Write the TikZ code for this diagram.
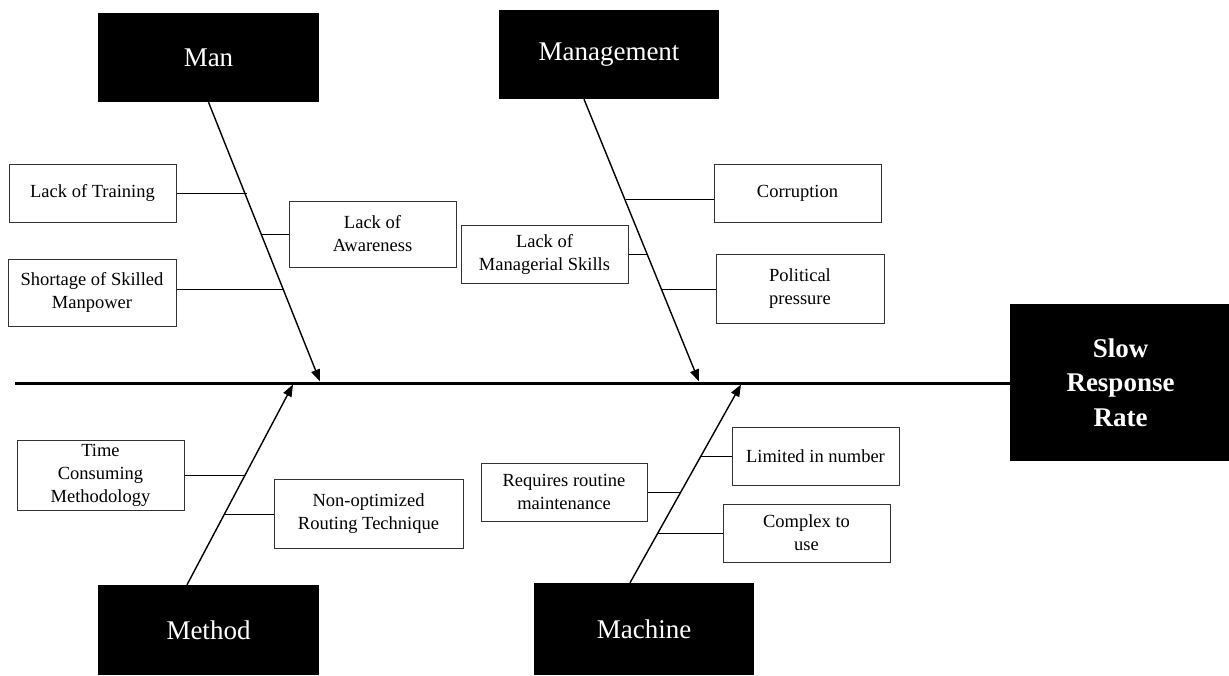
\documentclass[tikz,border=0pt]{standalone}
\usepackage{fontspec}
\setmainfont{Liberation Serif}
\usepackage{tikz}
\usetikzlibrary{arrows.meta, backgrounds}
\tikzstyle{cause} = [rectangle, minimum width=221pt, minimum height=89pt, text centered, inner sep=0pt, fill=black, text=white, font=\fontsize{27}{32}\selectfont]
\tikzstyle{factor} = [rectangle, minimum width=167pt, minimum height=58pt, align=center, inner sep=0pt, draw=black!80, line width=1pt, fill=white, font=\fontsize{18.5}{23}\selectfont]
\tikzstyle{effect} = [rectangle, minimum width=221pt, minimum height=157pt, align=center, inner sep=0pt, fill=black, text=white, font=\bfseries\fontsize{27}{34.5}\selectfont]
\tikzstyle{arrow} = [-{Triangle[length=12pt, width=9pt]}, line width=1.4pt]
\tikzstyle{line} = [-, line width=1pt]
\tikzstyle{spine} = [-, line width=3pt]

\begin{document}
\begin{tikzpicture}[x=1pt, y=-1pt, inner frame sep=0pt, background rectangle/.style={fill=white}, show background rectangle]

    \useasboundingbox (0, 0) rectangle (1229, 675);

    \node (man) [cause] at (208.5, 57.5) {Man};
    \node (mgmt) [cause, minimum width=220pt] at (609, 54.5) {Management};
    \node (method) [cause, minimum height=90pt] at (208.5, 630) {Method};
    \node (machine) [cause, minimum width=220pt, minimum height=92pt] at (644, 629) {Machine};
    \node (srr) [effect] at (1120.5, 382.5) {Slow\\Response\\Rate};

    \node (training) [factor] at (92.5, 193) {Lack of Training};
    \node (awareness) [factor, minimum height=66pt] at (372.5, 234) {Lack of\\Awareness};
    \node (manpower) [factor, minimum width=168pt, minimum height=67pt] at (92, 292.5) {Shortage of Skilled\\Manpower};
    \node (mskills) [factor] at (544.5, 254) {Lack of\\Managerial Skills};
    \node (corruption) [factor] at (797.5, 193) {Corruption};
    \node (political) [factor, minimum width=168pt, minimum height=69pt] at (800, 288.5) {Political\\pressure};
    \node (timecons) [factor, minimum height=70pt] at (100.5, 475) {Time\\Consuming\\Methodology};
    \node (routing) [factor, minimum width=189pt, minimum height=69pt] at (368.5, 513.5) {Non-optimized\\Routing Technique};
    \node (maint) [factor, minimum width=166pt] at (564, 492) {Requires routine\\maintenance};
    \node (limited) [factor] at (815.5, 456) {Limited in number};
    \node (complex) [factor] at (806.5, 533) {Complex to\\use};

    \coordinate (spinestart) at (15, 383);
    \coordinate (manhead) at (320, 381.5);
    \coordinate (mgmthead) at (699, 381.5);
    \coordinate (methodhead) at (293, 384.5);
    \coordinate (machinehead) at (741, 384.5);

    \coordinate (man1) at (247, 193);
    \coordinate (man2) at (261, 234);
    \coordinate (man3) at (283, 289);
    \coordinate (mgmt1) at (626, 199);
    \coordinate (mgmt2) at (647, 254);
    \coordinate (mgmt3) at (662, 289);
    \coordinate (meth1) at (245, 475);
    \coordinate (meth2) at (225, 514);
    \coordinate (mach1) at (701, 456);
    \coordinate (mach2) at (681, 492);
    \coordinate (mach3) at (658, 533);

    \draw [spine] (spinestart) -- (spinestart -| srr.west);

    \draw [arrow] (man.south) -- (manhead);
    \draw [arrow] ([xshift=-25pt]mgmt.south) -- (mgmthead);
    \draw [arrow] ([xshift=-21.5pt]method.north) -- (methodhead);
    \draw [arrow] ([xshift=-14pt]machine.north) -- (machinehead);

    \draw [line] (man1) -- (man1 -| training.east);
    \draw [line] (man2) -- (man2 -| awareness.west);
    \draw [line] (man3) -- (man3 -| manpower.east);
    \draw [line] (mgmt1) -- (mgmt1 -| corruption.west);
    \draw [line] (mgmt2) -- (mgmt2 -| mskills.east);
    \draw [line] (mgmt3) -- (mgmt3 -| political.west);
    \draw [line] (meth1) -- (meth1 -| timecons.east);
    \draw [line] (meth2) -- (meth2 -| routing.west);
    \draw [line] (mach1) -- (mach1 -| limited.west);
    \draw [line] (mach2) -- (mach2 -| maint.east);
    \draw [line] (mach3) -- (mach3 -| complex.west);

\end{tikzpicture}
\end{document}
